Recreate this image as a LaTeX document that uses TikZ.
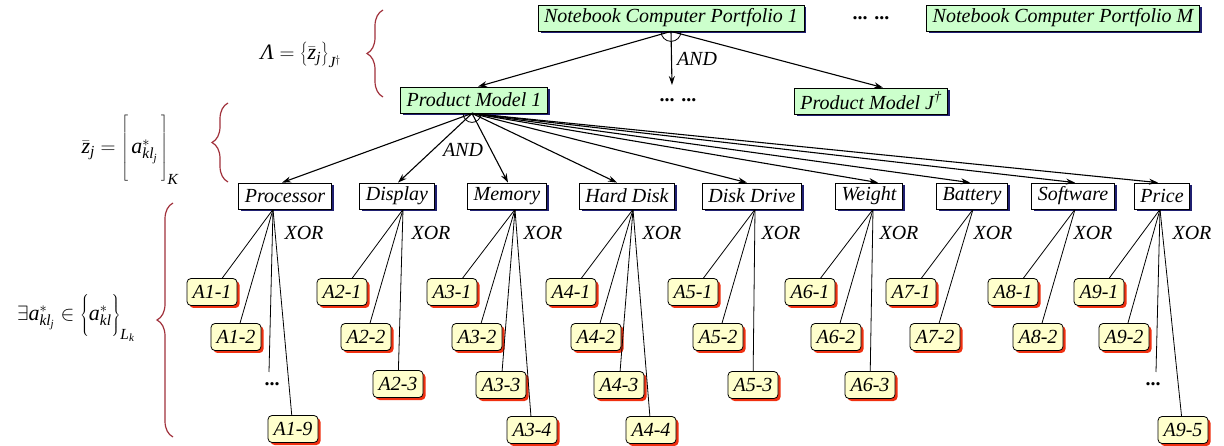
\documentclass[tikz,border=0pt]{standalone}
\usepackage{fontspec}
\setmainfont{Liberation Serif}
\usetikzlibrary{shadows,arrows.meta,decorations.pathreplacing,calc}
\definecolor{gfill}{HTML}{CCFFCC}
\definecolor{yfill}{HTML}{FFFFCC}
\definecolor{navyc}{HTML}{1F1F70}
\definecolor{shred}{HTML}{F03010}
\definecolor{brred}{HTML}{A0303A}
\begin{document}
\begin{tikzpicture}[x=1pt,y=-1pt,
  every node/.style={font=\fontsize{20}{22}\selectfont\itshape},
  topbox/.style={draw=black, fill=gfill, line width=0.8pt, inner xsep=6pt, inner ysep=0pt, minimum height=26pt,
    drop shadow={shadow xshift=2.5pt, shadow yshift=-2.5pt, fill=navyc, opacity=1}},
  attr/.style={draw=black, fill=white, line width=0.8pt, inner xsep=6pt, inner ysep=0pt, minimum height=26pt,
    drop shadow={shadow xshift=2.5pt, shadow yshift=-2.5pt, fill=navyc, opacity=1}},
  leaf/.style={draw=black, fill=yfill, rounded corners=4pt, line width=0.8pt, minimum width=50pt, minimum height=27pt, inner sep=0pt,
    drop shadow={shadow xshift=2.5pt, shadow yshift=-2.5pt, fill=shred, opacity=1}},
  arr/.style={-{Stealth[length=9pt,width=6pt]}, line width=1.1pt},
  lnk/.style={line width=0.8pt},
  dotsty/.style={font=\fontsize{20}{22}\selectfont\bfseries},
  mathsty/.style={font=\fontsize{22}{26}\selectfont},
  rbrace/.style={draw=brred, line width=1.2pt, decorate, decoration={brace, amplitude=16pt}}
]
\useasboundingbox (0,0) rectangle (1224,446);

% top level
\node[topbox] (ncp1) at (671,18) {Notebook Computer Portfolio 1};
\node[dotsty] (dotsA) at (871,18) {... ...};
\node[topbox] (ncpm) at (1063,18) {Notebook Computer Portfolio M};
\node[topbox] (pm1) at (474,100) {Product Model 1};
\node[dotsty] (dotsB) at (678,100) {... ...};
\node[topbox] (pmj) at (871,101) {Product Model J\textsuperscript{\dag}};

\draw[arr] (ncp1.south) -- ([xshift=4pt]pm1.north);
\draw[arr] (ncp1.south) -- ([xshift=12pt]pmj.north);
\coordinate (dotsBe) at (672,85);
\draw[arr] (ncp1.south) -- (dotsBe);
\draw[line width=0.8pt] ([xshift=-10pt]ncp1.south) arc[start angle=180, end angle=360, radius=10pt];
\node (and1) at (697,59) {AND};

% attributes
\node[attr] (proc) at (285,196) {Processor};
\node[attr] (disp) at (397,196) {Display};
\node[attr] (mem)  at (507,196) {Memory};
\node[attr] (hd)   at (627,196) {Hard Disk};
\node[attr] (dd)   at (752,196) {Disk Drive};
\node[attr] (wt)   at (869,196) {Weight};
\node[attr] (bat)  at (972,196) {Battery};
\node[attr] (sw)   at (1073,196) {Software};
\node[attr] (pr)   at (1162,196) {Price};

\coordinate (pmroot) at ([xshift=-2pt]pm1.south);
\foreach \n/\s in {proc/-3, disp/1, mem/1, hd/-10, dd/-5, wt/9, bat/-2, sw/2, pr/-4}
  \draw[arr] (pmroot) -- ([xshift=\s pt]\n.north);
\draw[line width=0.8pt] ([xshift=-9pt]pmroot) arc[start angle=180, end angle=360, radius=9pt];
\node (and2) at (463,150) {AND};

% stems
\foreach \n/\s in {proc/-12, disp/6, mem/8, hd/6, dd/3, wt/4, bat/1, sw/2, pr/-2}
  \coordinate (\n-s) at ([xshift=\s pt]\n.south);

% XOR labels
\foreach \x/\i in {304/1, 431/2, 543/3, 662/4, 781/5, 899/6, 993/7, 1093/8, 1192/9}
  \node (xor\i) at (\x,233) {XOR};

% leaves
\node[leaf] (a11) at (212,292) {A1-1};
\node[leaf] (a12) at (236,337) {A1-2};
\node[dotsty] (d1) at (272,384) {...};
\coordinate (d1e) at (269,372);
\node[leaf] (a19) at (293,429) {A1-9};

\node[leaf] (a21) at (342,292) {A2-1};
\node[leaf] (a22) at (366,337) {A2-2};
\node[leaf] (a23) at (398,384) {A2-3};

\node[leaf] (a31) at (452,292) {A3-1};
\node[leaf] (a32) at (477,337) {A3-2};
\node[leaf] (a33) at (501,385) {A3-3};
\node[leaf] (a34) at (532,430) {A3-4};

\node[leaf] (a41) at (571,292) {A4-1};
\node[leaf] (a42) at (596,337) {A4-2};
\node[leaf] (a43) at (619,385) {A4-3};
\node[leaf] (a44) at (651,430) {A4-4};

\node[leaf] (a51) at (693,292) {A5-1};
\node[leaf] (a52) at (718,337) {A5-2};
\node[leaf] (a53) at (753,385) {A5-3};

\node[leaf] (a61) at (810,292) {A6-1};
\node[leaf] (a62) at (836,337) {A6-2};
\node[leaf] (a63) at (870,385) {A6-3};

\node[leaf] (a71) at (911,292) {A7-1};
\node[leaf] (a72) at (935,337) {A7-2};

\node[leaf] (a81) at (1013,292) {A8-1};
\node[leaf] (a82) at (1038,337) {A8-2};

\node[leaf] (a91) at (1099,292) {A9-1};
\node[leaf] (a92) at (1124,337) {A9-2};
\node[dotsty] (d9) at (1153,384) {...};
\coordinate (d9e) at (1156,372);
\node[leaf] (a95) at (1183,430) {A9-5};

% leaf links
\foreach \s/\t in {proc-s/a11, proc-s/a12, proc-s/d1e, proc-s/a19,
  disp-s/a21, disp-s/a22, disp-s/a23,
  mem-s/a31, mem-s/a32, mem-s/a33, mem-s/a34,
  hd-s/a41, hd-s/a42, hd-s/a43, hd-s/a44,
  dd-s/a51, dd-s/a52, dd-s/a53,
  wt-s/a61, wt-s/a62, wt-s/a63,
  bat-s/a71, bat-s/a72,
  sw-s/a81, sw-s/a82,
  pr-s/a91, pr-s/a92, pr-s/d9e, pr-s/a95}
  \draw[lnk] (\s) -- (\t);

% formulas
\node[mathsty] (f1) at (301,55) {\textit{Λ} $=\left\{\bar{\mathit{z}}_{\mathit{j}}\right\}_{\mathit{J}^{\dagger}}$};
\node[mathsty] (f2) at (130,150) {$\bar{\mathit{z}}_{\mathit{j}} = \left[\vrule height 30pt depth 30pt width 0pt\, \mathit{a}^{*}_{\mathit{kl}_{\mathit{j}}}\, \right]_{\mathit{K}}$};
\node[mathsty] (f3) at (76,318) {$\exists \mathit{a}^{*}_{\mathit{kl}_{\mathit{j}}} \in \left\{\vrule height 22pt depth 18pt width 0pt \mathit{a}^{*}_{\mathit{kl}} \right\}_{\mathit{L}_{\mathit{k}}}$};

% braces
\draw[rbrace] (383,97) -- (383,10);
\draw[rbrace] (228,182) -- (228,103);
\draw[rbrace] (173,437) -- (173,203);
\end{tikzpicture}
\end{document}
